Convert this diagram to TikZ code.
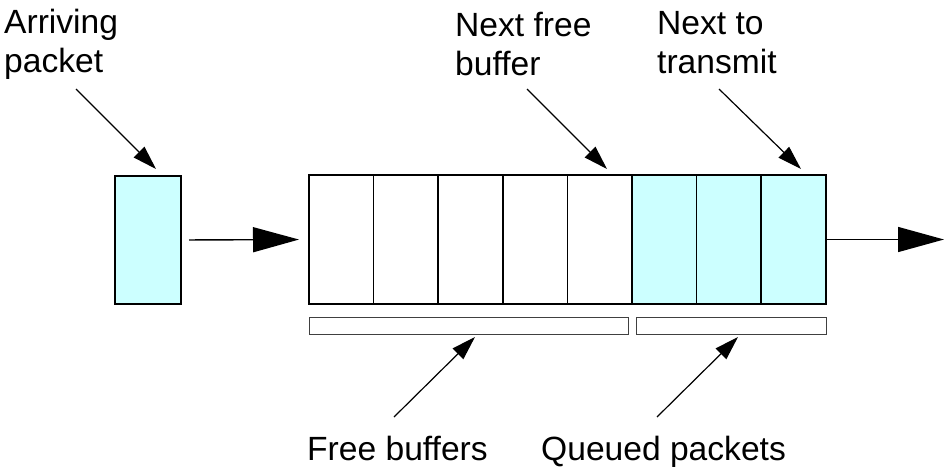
\documentclass[tikz,border=0pt]{standalone}
\usepackage{fontspec}
\setmainfont{Liberation Sans}
\usetikzlibrary{arrows.meta}
\definecolor{pkt}{HTML}{CCFFFF}
\begin{document}
\begin{tikzpicture}[x=1pt,y=-1pt,
  cell/.style={draw=black,line width=1.6pt,minimum width=64.6pt,minimum height=129pt,inner sep=0pt,outer sep=0pt},
  freecell/.style={cell,fill=white},
  qcell/.style={cell,fill=pkt},
  bar/.style={draw=black!75,line width=1pt,fill=white,minimum height=17pt,inner sep=0pt,outer sep=0pt},
  lbl/.style={font=\fontsize{33.6}{39}\selectfont,inner sep=0pt,align=left},
  bigarrow/.style={line width=1.4pt,-{Triangle[length=46pt,width=25pt]}},
  ptrarrow/.style={line width=1.2pt,-{Triangle[length=24pt,width=15pt]}}]
\useasboundingbox (0,0) rectangle (945,469);
% arriving packet
\node[qcell,minimum width=66pt,minimum height=128pt] (packet) at (148,240) {};
% buffer cells
\foreach \i in {1,...,5}{
  \node[freecell] (c\i) at ({309+64.6*(\i-0.5)},239.5) {};
}
\foreach \i in {6,7,8}{
  \node[qcell] (c\i) at ({309+64.6*(\i-0.5)},239.5) {};
}
% bars
\node[bar,minimum width=319pt] (freebar) at (468.5,325.5) {};
\node[bar,minimum width=190pt] (qbar) at (731,325.5) {};
% labels
\node[lbl,anchor=north west] (arr) at (4,8.5) {Arriving\\packet};
\node[lbl,anchor=north west] (nfb) at (455,11.5) {Next free\\buffer};
\node[lbl,anchor=north west] (ntt) at (657,11.5) {Next to\\transmit};
\node[lbl,anchor=base west] (fb) at (307,460) {Free buffers};
\node[lbl,anchor=base west] (qp) at (541,460) {Queued packets};
% coordinates
\coordinate (a1s) at (76,89);   \coordinate (a1e) at (156,169);
\coordinate (a2s) at (527,89);  \coordinate (a2e) at (607,169);
\coordinate (a3s) at (719,89);  \coordinate (a3e) at (801,169);
\coordinate (a4s) at (394,417); \coordinate (a4e) at (475,337);
\coordinate (a5s) at (657,417); \coordinate (a5e) at (738,337);
\coordinate (outend) at (944,239.5);
% arrows
\draw[bigarrow,shorten <=8pt,shorten >=10pt] (packet.east) -- (c1.west);
\draw[bigarrow] (c8.east) -- (outend);
\draw[ptrarrow] (a1s) -- (a1e);
\draw[ptrarrow] (a2s) -- (a2e);
\draw[ptrarrow] (a3s) -- (a3e);
\draw[ptrarrow] (a4s) -- (a4e);
\draw[ptrarrow] (a5s) -- (a5e);
\end{tikzpicture}
\end{document}
